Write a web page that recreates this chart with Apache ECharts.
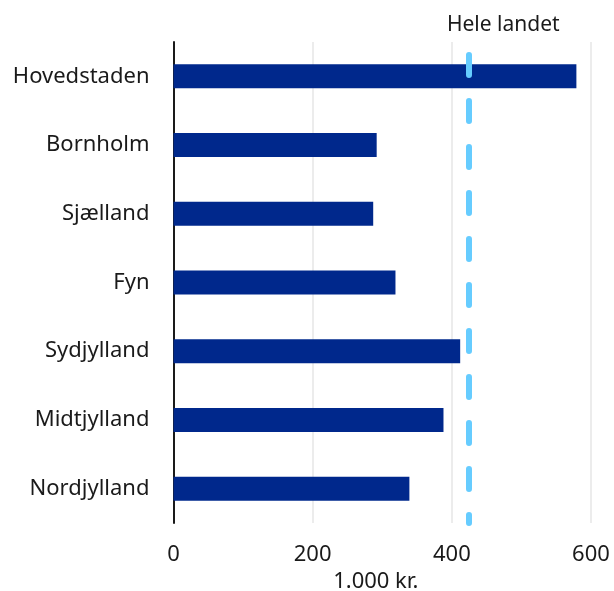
<!DOCTYPE html>
<html><head><meta charset="utf-8">
<script src="https://cdn.jsdelivr.net/npm/echarts@6/dist/echarts.min.js"></script>
<style>html,body{margin:0;padding:0;background:#fff}#c{width:614px;height:591px}</style>
</head><body><div id="c"></div>
<script>
const categories = ['Nordjylland','Midtjylland','Sydjylland','Fyn','Sjælland','Bornholm','Hovedstaden'];
const values = [339, 388, 412, 319, 287, 292, 579];
const national = 425;
const nationalLabel = 'Hele landet';
const xTicks = [0, 200, 400, 600];
const axisName = '1.000 kr.';

const FONT = '"Noto Sans", sans-serif';
const chart = echarts.init(document.getElementById('c'), null, {renderer: 'canvas'});
chart.setOption({
  animation: false,
  grid: {left: 173.5, right: 23, top: 42, bottom: 68, containLabel: false, outerBoundsMode: 'none'},
  xAxis: {
    type: 'value', min: xTicks[0], max: xTicks[xTicks.length-1], interval: 200,
    name: axisName, nameLocation: 'middle', nameGap: 46,
    nameTextStyle: {fontFamily: FONT, fontSize: 22, color: '#1a1a1a', padding: [0, 13, 0, 0]},
    axisLine: {show: false}, axisTick: {show: false},
    axisLabel: {fontFamily: FONT, fontSize: 22, color: '#1a1a1a', margin: 21},
    splitLine: {show: true, lineStyle: {color: '#ececec', width: 2}}
  },
  yAxis: {
    type: 'category', data: categories,
    axisLine: {show: true, onZero: false, lineStyle: {color: '#1a1a1a', width: 2}},
    axisTick: {show: false},
    axisLabel: {fontFamily: FONT, fontSize: 22, color: '#1a1a1a', margin: 24},
    splitLine: {show: false}
  },
  series: [{
    type: 'bar', data: values, barWidth: 24,
    itemStyle: {color: '#00288c'},
    markLine: {
      silent: true, symbol: ['none','none'],
      lineStyle: {type: [20, 26], dashOffset: 12, color: '#66ccff', width: 6, cap: 'round'},
      label: {show: true, position: 'end', formatter: nationalLabel, fontFamily: FONT, fontSize: 21, color: '#1a1a1a', distance: 6, offset: [34, 0]},
      data: [{xAxis: national}]
    }
  }]
});
</script></body></html>
